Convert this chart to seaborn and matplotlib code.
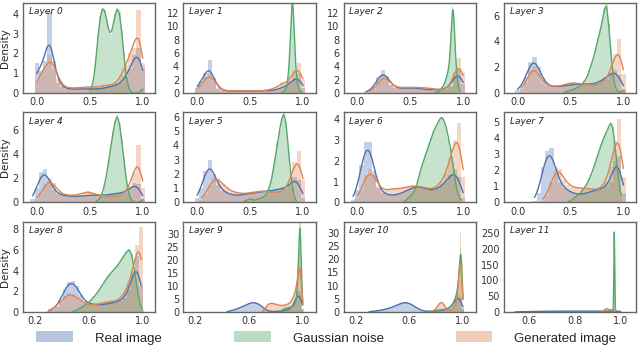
import numpy as np
import matplotlib
matplotlib.use("Agg")
import matplotlib.pyplot as plt
import seaborn as sns
from matplotlib.patches import Patch
from matplotlib.ticker import MultipleLocator, FixedLocator

# ---- data: density per histogram bin (first bin centre, bin width, heights) ----
series_names = ["Real image", "Gaussian noise", "Generated image"]

real_start = [0.00, 0.00, 0.08, 0.00, -0.04, 0.00, -0.04, 0.16, 0.30, 0.44, 0.30, 0.54]
real_step = [0.04, 0.04, 0.04, 0.04, 0.04, 0.04, 0.04, 0.04, 0.03, 0.02, 0.02, 0.02]
real_dens = [
    [1.5, 1.1, 1.6, 4.1, 1.2, 0.5, 0.3, 0.2, 0.2, 0.2, 0.2, 0.2, 0.2, 0.2, 0.2, 0.2, 0.25, 0.3, 0.35, 0.4, 0.5, 0.8, 1.2, 1.9, 2.3, 1.2],
    [0.8, 1.8, 3.0, 4.9, 1.8, 0.6, 0.35, 0.3, 0.3, 0.3, 0.3, 0.3, 0.3, 0.3, 0.3, 0.3, 0.35, 0.35, 0.35, 0.5, 0.8, 1.0, 1.4, 2.2, 2.8, 0.8],
    [0.1, 0.3, 0.9, 2.4, 3.4, 2.6, 1.2, 0.8, 0.7, 0.7, 0.7, 0.8, 0.7, 0.6, 0.5, 0.5, 0.5, 0.5, 0.5, 0.6, 1.0, 2.6, 3.6, 1.4],
    [0.2, 0.5, 1.2, 2.4, 2.8, 2.0, 1.0, 0.6, 0.5, 0.5, 0.5, 0.55, 0.6, 0.65, 0.7, 0.7, 0.7, 0.65, 0.7, 0.8, 1.0, 1.2, 1.5, 1.8, 1.4, 0.3],
    [0.3, 1.2, 2.5, 2.8, 1.8, 1.0, 0.7, 0.6, 0.55, 0.5, 0.5, 0.5, 0.55, 0.6, 0.6, 0.6, 0.6, 0.6, 0.65, 0.7, 0.75, 0.8, 0.9, 1.1, 1.6, 1.5, 0.3],
    [0.3, 1.0, 2.2, 3.0, 2.0, 1.2, 0.8, 0.65, 0.55, 0.5, 0.5, 0.55, 0.6, 0.65, 0.7, 0.75, 0.75, 0.8, 0.85, 0.9, 1.0, 1.0, 1.2, 1.8, 1.6, 0.3],
    [0.1, 0.6, 1.8, 2.9, 2.9, 1.5, 0.7, 0.45, 0.35, 0.35, 0.35, 0.4, 0.5, 0.6, 0.7, 0.8, 0.75, 0.65, 0.6, 0.6, 0.65, 0.8, 1.0, 1.3, 1.6, 1.2, 0.2],
    [0.1, 0.6, 2.2, 3.2, 3.4, 2.0, 1.2, 0.9, 0.7, 0.6, 0.5, 0.5, 0.55, 0.65, 0.75, 0.8, 0.85, 1.0, 1.3, 2.6, 2.9, 0.6],
    [0.1, 0.2, 0.5, 1.2, 2.2, 2.9, 3.0, 2.5, 1.6, 1.0, 0.8, 0.75, 0.7, 0.7, 0.75, 0.8, 0.9, 1.0, 1.1, 1.4, 2.1, 3.8, 5.4, 2.5],
    [0.2, 0.4, 0.7, 1.0, 1.4, 1.8, 2.3, 2.8, 3.3, 3.6, 3.7, 3.4, 2.8, 1.9, 1.0, 0.4, 0.2, 0.15, 0.2, 0.3, 0.4, 0.5, 0.7, 1.0, 1.6, 3.2, 8.0, 7.5, 1.0],
    [0.1, 0.2, 0.3, 0.45, 0.6, 0.8, 1.0, 1.3, 1.6, 2.0, 2.4, 2.9, 3.3, 3.6, 3.6, 3.3, 2.8, 2.1, 1.4, 0.8, 0.45, 0.3, 0.25, 0.25, 0.3, 0.4, 0.5, 0.6, 0.8, 1.0, 1.5, 2.5, 4.0, 6.5, 5.5, 1.0],
    [0.5, 0.8, 1.0, 1.3, 1.6, 1.9, 2.2, 2.4, 2.6, 2.7, 2.8, 2.8, 2.7, 2.6, 2.5, 2.4, 2.3, 2.3, 2.4, 2.6, 2.8, 3.0, 3.2, 3.0],
]

noise_start = [0.50, 0.80, 0.74, 0.44, 0.56, 0.44, 0.44, 0.48, 0.48, 0.83, 0.74, 0.968]
noise_step = [0.02, 0.01, 0.01, 0.02, 0.02, 0.02, 0.02, 0.02, 0.02, 0.01, 0.01, 0.002]
noise_dens = [
    [0.1, 0.3, 0.8, 1.8, 3.0, 3.9, 4.3, 4.2, 3.7, 3.1, 3.0, 3.4, 4.0, 4.3, 4.1, 3.2, 2.0, 1.0, 0.4, 0.1, 0, 0, 0, 0, 0.1, 0.25],
    [0.05, 0.1, 0.2, 0.4, 0.7, 1.2, 2.5, 4.5, 8.0, 12.0, 14.5, 12.0, 8.0, 4.5, 2.5, 1.3, 0.7, 0.35, 0.15, 0.05],
    [0.1, 0.15, 0.2, 0.3, 0.4, 0.6, 0.8, 1.0, 1.3, 1.7, 2.2, 2.8, 3.5, 4.8, 7.0, 10.5, 13.0, 12.0, 8.5, 5.0, 2.8, 1.5, 0.6, 0.2],
    [0.05, 0.1, 0.15, 0.2, 0.25, 0.3, 0.4, 0.5, 0.6, 0.8, 1.0, 1.3, 1.8, 2.3, 2.8, 3.5, 4.2, 4.8, 5.6, 6.5, 7.0, 5.4, 3.3, 1.5, 0.5, 0.15, 0.05, 0.1, 0.2],
    [0.1, 0.2, 0.4, 0.8, 1.5, 2.4, 3.5, 4.7, 5.9, 6.8, 7.3, 6.6, 5.3, 3.7, 2.2, 1.0, 0.4, 0.1, 0, 0, 0, 0.1, 0.3],
    [0.05, 0.1, 0.2, 0.25, 0.2, 0.15, 0.2, 0.25, 0.3, 0.35, 0.45, 0.6, 1.0, 1.5, 2.3, 3.2, 4.2, 5.1, 5.9, 6.3, 5.6, 4.0, 2.3, 1.0, 0.3, 0.05],
    [0.05, 0.1, 0.2, 0.3, 0.4, 0.55, 0.8, 1.2, 1.6, 1.9, 2.2, 2.5, 2.8, 3.1, 3.4, 3.6, 3.8, 4.0, 4.1, 3.9, 3.6, 3.1, 2.6, 1.9, 1.2, 0.6, 0.25, 0.1],
    [0.05, 0.1, 0.2, 0.3, 0.4, 0.5, 0.65, 0.8, 1.0, 1.2, 1.5, 1.8, 2.2, 2.6, 3.0, 3.4, 3.8, 4.1, 4.4, 4.7, 5.0, 4.7, 3.6, 2.3, 1.1, 0.3],
    [0.05, 0.15, 0.25, 0.4, 0.55, 0.75, 0.95, 1.2, 1.5, 1.8, 2.2, 2.6, 3.0, 3.4, 3.7, 4.0, 4.3, 4.6, 5.0, 5.4, 5.8, 6.1, 5.6, 4.0, 2.2, 0.8, 0.15],
    [0.2, 0.5, 0.9, 1.2, 1.4, 1.5, 1.6, 1.7, 1.8, 2.0, 2.3, 2.8, 4.0, 9.0, 24.0, 38.0, 14.0, 1.0],
    [0.1, 0.2, 0.3, 0.4, 0.5, 0.6, 0.6, 0.7, 0.7, 0.8, 0.8, 0.9, 1.0, 1.1, 1.3, 1.5, 1.8, 2.2, 2.8, 3.8, 5.0, 6.5, 9.0, 14.0, 24.0, 20.0, 2.0],
    [1, 10, 100, 320, 140, 15, 1],
]

gen_start = [0.00, 0.00, 0.12, 0.04, 0.00, 0.04, 0.00, 0.24, 0.30, 0.70, 0.76, 0.92]
gen_step = [0.04, 0.04, 0.04, 0.04, 0.04, 0.04, 0.04, 0.04, 0.03, 0.01, 0.01, 0.005]
gen_dens = [
    [0.6, 1.0, 1.3, 1.9, 1.6, 0.7, 0.35, 0.25, 0.25, 0.25, 0.25, 0.3, 0.3, 0.3, 0.3, 0.3, 0.4, 0.4, 0.4, 0.5, 0.9, 1.4, 2.0, 2.3, 4.2, 1.5],
    [0.4, 1.2, 2.4, 2.9, 2.2, 0.8, 0.4, 0.3, 0.3, 0.3, 0.3, 0.3, 0.3, 0.3, 0.3, 0.3, 0.35, 0.45, 0.6, 0.9, 1.6, 1.3, 2.0, 3.4, 4.5, 2.0],
    [0.1, 0.5, 1.6, 2.7, 2.3, 1.2, 0.9, 0.8, 0.8, 0.8, 0.9, 0.8, 0.8, 0.8, 0.7, 0.6, 0.5, 0.5, 0.5, 0.9, 3.2, 5.2, 3.0],
    [0.3, 0.8, 1.8, 2.1, 1.5, 0.8, 0.55, 0.5, 0.5, 0.55, 0.6, 0.8, 0.8, 0.75, 0.7, 0.7, 0.6, 0.55, 0.6, 0.8, 1.0, 1.6, 3.0, 4.2, 1.5],
    [0.3, 0.8, 1.5, 2.0, 1.6, 0.9, 0.7, 0.6, 0.6, 0.6, 0.65, 0.8, 0.95, 0.8, 0.65, 0.6, 0.55, 0.5, 0.5, 0.5, 0.6, 0.8, 1.4, 2.5, 4.8, 1.2],
    [0.2, 0.6, 1.2, 1.8, 1.7, 1.3, 1.0, 0.8, 0.7, 0.65, 0.6, 0.65, 0.7, 0.75, 0.8, 0.8, 0.75, 0.7, 0.7, 0.75, 0.9, 1.5, 2.8, 3.6, 1.6],
    [0.2, 0.6, 1.3, 1.6, 1.3, 0.8, 0.55, 0.6, 0.65, 0.65, 0.65, 0.7, 0.75, 0.8, 0.8, 0.75, 0.7, 0.65, 0.65, 0.75, 1.0, 1.4, 2.1, 3.0, 3.8, 1.2],
    [0.1, 0.4, 1.3, 2.2, 2.1, 1.4, 1.1, 0.95, 0.9, 0.9, 0.9, 0.85, 0.8, 0.8, 0.9, 1.3, 2.2, 3.8, 5.2, 1.6],
    [0.1, 0.3, 0.6, 1.0, 1.5, 1.8, 1.7, 1.4, 1.1, 0.9, 0.7, 0.65, 0.7, 0.85, 0.95, 1.0, 1.0, 1.1, 1.3, 1.8, 2.8, 4.0, 6.5, 8.2],
    [0.2, 0.6, 1.4, 2.3, 2.9, 3.2, 3.3, 3.3, 3.3, 3.1, 2.9, 2.7, 2.6, 2.5, 2.5, 2.5, 2.6, 2.7, 2.8, 3.0, 3.3, 3.8, 4.5, 5.5, 7.0, 9.0, 12.0, 16.0, 24.0, 8.0, 1.0],
    [0.1, 0.2, 0.4, 0.8, 1.4, 2.2, 3.0, 3.6, 3.8, 3.5, 2.6, 1.6, 0.9, 0.6, 0.5, 0.6, 0.8, 1.2, 2.0, 3.5, 6.0, 12.0, 30.0, 12.0, 1.0],
    [0.5, 2.0, 6.0, 10.0, 12.0, 11.0, 8.0, 6.0, 7.0, 9.0, 8.0, 3.0, 0.5],
]

# ---- axes settings ----
x_lims = [(-0.13, 1.12)] * 8 + [(0.11, 1.096)] * 3 + [(0.49, 1.07)]
x_ticks = [[0.0, 0.5, 1.0]] * 8 + [[0.2, 0.6, 1.0]] * 3 + [[0.6, 0.8, 1.0]]
y_tops = [4.56, 13.5, 13.5, 7.0, 7.5, 6.3, 4.3, 5.6, 8.7, 34.4, 34.0, 285]
y_steps = [1, 2, 2, 2, 2, 1, 1, 1, 2, 5, 5, 50]

colors = ["#4C72B0", "#55A868", "#DD8452"]
smooth = [1.0, 0.6, 1.0]

sns.set_style("white")
plt.rcParams["font.family"] = ["DejaVu Sans"]


def draw(ax, start, step, dens, color, k):
    dens = np.asarray(dens, float)
    centers = start + step * np.arange(len(dens))
    edges = np.append(centers - step / 2, centers[-1] + step / 2)
    keep = dens > 0
    x, w = centers[keep], dens[keep]
    sd = np.sqrt(np.cov(x, aweights=w))
    sns.histplot(x=x, weights=w, bins=edges.tolist(), stat="count", kde=True,
                 kde_kws={"bw_method": k * step / sd},
                 color=color, alpha=0.33, linewidth=0, ax=ax,
                 line_kws={"lw": 1.0})


fig, axes = plt.subplots(3, 4, figsize=(6.4, 3.63), dpi=100)
plt.subplots_adjust(left=0.036, right=0.994, top=0.992, bottom=0.1405,
                    wspace=0.21, hspace=0.217)

for i, ax in enumerate(axes.flat):
    draw(ax, real_start[i], real_step[i], real_dens[i], colors[0], smooth[0])
    draw(ax, noise_start[i], noise_step[i], noise_dens[i], colors[1], smooth[1])
    draw(ax, gen_start[i], gen_step[i], gen_dens[i], colors[2], smooth[2])
    ax.set_xlim(*x_lims[i])
    ax.set_ylim(0, y_tops[i])
    ax.xaxis.set_major_locator(FixedLocator(x_ticks[i]))
    ax.yaxis.set_major_locator(MultipleLocator(y_steps[i]))
    ax.set_xlabel("")
    ax.set_ylabel("Density" if i % 4 == 0 else "", fontsize=7.5, labelpad=2)
    ax.tick_params(labelsize=7, length=0, pad=3, colors="#333333")
    for s in ax.spines.values():
        s.set_color("#666666")
        s.set_linewidth(1.0)
    ax.text(0.045, 0.95, f"Layer {i}", transform=ax.transAxes, ha="left", va="top",
            fontsize=6.5, style="italic", color="#222222")

handles = [Patch(facecolor=c, alpha=0.4, linewidth=0) for c in colors]
fig.legend(handles, series_names, loc="center", bbox_to_anchor=(0.51, 1 - 338 / 363),
           ncol=3, frameon=False, handlelength=2.8, handleheight=0.9,
           handletextpad=1.65, columnspacing=5.45,
           prop={"family": "Liberation Sans", "size": 9.5})

fig.savefig("out.png", dpi=100)
